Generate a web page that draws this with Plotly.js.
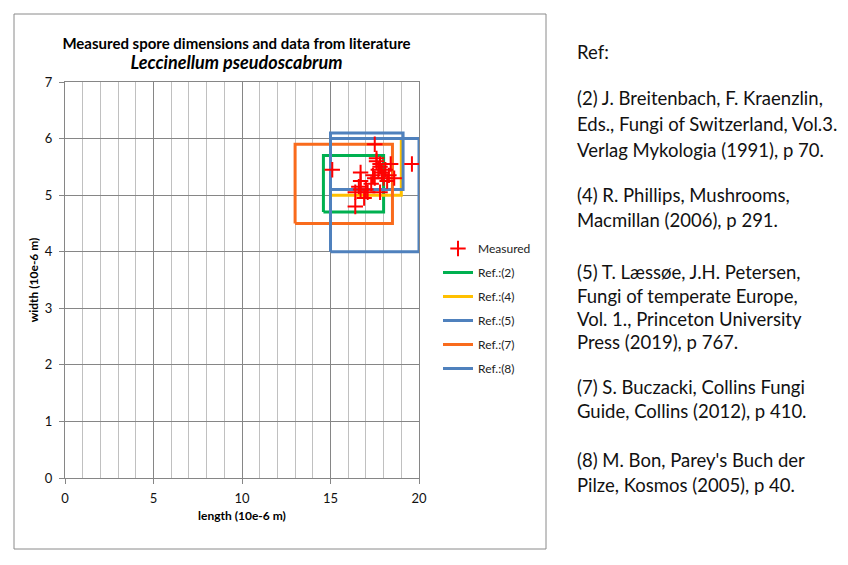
<!DOCTYPE html>
<html><head><meta charset="utf-8">
<script src="https://cdn.plot.ly/plotly-3.0.1.min.js"></script>
<style>html,body{margin:0;padding:0;background:#fff}#chart{width:848px;height:565px}</style>
</head><body><div id="chart"></div><script>
// Measured spores (length, width) in 10e-6 m
const measuredLength = [17.5, 15.1, 19.6, 16.4, 16.7, 16.7, 16.7, 17.6, 17.8, 18.4, 18.6, 16.9, 17.1, 17.8, 16.6, 17.5, 18.0, 17.4, 17.8, 18.2, 17.7, 17.3, 17.9, 18.3, 16.4, 17.0, 17.6, 18.1];
const measuredWidth  = [5.9, 5.45, 5.55, 4.8, 5.4, 5.25, 5.1, 5.6, 5.55, 5.55, 5.3, 4.95, 5.05, 5.05, 5.15, 5.3, 5.3, 5.35, 5.5, 5.25, 5.45, 5.2, 5.4, 5.35, 5.05, 5.1, 5.65, 5.45];

// Literature ranges
const refNames     = ['Ref.:(2)', 'Ref.:(4)', 'Ref.:(5)', 'Ref.:(7)', 'Ref.:(8)'];
const refLengthMin = [14.6, 15, 15, 13, 15];
const refLengthMax = [18, 19, 19.1, 18.5, 20];
const refWidthMin  = [4.7, 5, 5.1, 4.5, 4];
const refWidthMax  = [5.7, 6, 6.1, 5.9, 6];
const refColors    = ['#00B050', '#FFC000', '#4F81BD', '#F96B1C', '#4F81BD'];

const xTickVals = [0, 5, 10, 15, 20];
const yTickVals = [0, 1, 2, 3, 4, 5, 6, 7];

const refText = [
  'Ref:',
  '(2) J. Breitenbach, F. Kraenzlin,',
  'Eds., Fungi of Switzerland, Vol.3.',
  'Verlag Mykologia (1991), p 70.',
  '(4) R. Phillips, Mushrooms,',
  'Macmillan (2006), p 291.',
  '(5) T. Læssøe, J.H. Petersen,',
  'Fungi of temperate Europe,',
  'Vol. 1., Princeton University',
  'Press (2019), p 767.',
  '(7) S. Buczacki, Collins Fungi',
  'Guide, Collins (2012), p 410.',
  '(8) M. Bon, Parey\'s Buch der',
  'Pilze, Kosmos (2005), p 40.'
];
const refTextY = [52, 98, 124, 150, 195, 220, 272, 296, 319, 342, 387, 411, 460, 485];

// plot area in pixels: x 65..419, y 82..478
const L = 65, W = 354, T = 82, H = 396;
const px = X => (X - L) / W;
const py = Y => (T + H - Y) / H;

const traces = [];
refNames.forEach((name, i) => {
  traces.push({
    type: 'scatter', mode: 'lines', name: name,
    x: [refLengthMin[i], refLengthMax[i], refLengthMax[i], refLengthMin[i], refLengthMin[i]],
    y: [refWidthMin[i], refWidthMin[i], refWidthMax[i], refWidthMax[i], refWidthMin[i]],
    line: {color: refColors[i], width: 3},
    legendgroup: 'g' + (i + 1), legendrank: i + 2, hoverinfo: 'skip'
  });
});
traces.push({
  type: 'scatter', mode: 'markers', name: 'Measured',
  x: measuredLength, y: measuredWidth,
  marker: {symbol: 'cross-thin', size: 11, color: '#FF0000', line: {color: '#FF0000', width: 2}},
  legendgroup: 'g0', legendrank: 1
});

const annotations = refText.map((t, i) => ({
  xref: 'paper', yref: 'paper', x: px(575), y: py(refTextY[i]),
  xanchor: 'left', yanchor: 'middle', showarrow: false, text: t,
  font: {family: 'Lato, sans-serif', size: 18.5, color: '#111'}
}));

const layout = {
  width: 848, height: 565,
  margin: {l: L, r: 848 - L - W, t: T, b: 565 - T - H, pad: 0},
  paper_bgcolor: '#fff', plot_bgcolor: '#fff',
  font: {family: 'Lato, sans-serif', color: '#111'},
  title: {
    text: '<b>Measured spore dimensions and data from literature</b><br><span style="font-size:18px"><b><i>Leccinellum pseudoscabrum</i></b></span>',
    font: {family: 'Lato, sans-serif', size: 15, color: '#000'},
    x: px(236.5), xref: 'paper', xanchor: 'center',
    y: 1 - 49 / 565, yref: 'container', yanchor: 'top'
  },
  xaxis: {
    range: [0, 20], tickvals: xTickVals, ticks: 'outside', ticklen: 5, tickcolor: '#868686',
    showgrid: true, gridcolor: '#868686', gridwidth: 1,
    minor: {dtick: 1, tick0: 0, showgrid: true, gridcolor: '#c0c0c0', gridwidth: 1, ticks: ''},
    showline: true, linecolor: '#868686', mirror: true, zeroline: false, automargin: false,
    tickfont: {family: 'Lato, sans-serif', size: 13, color: '#111'}, ticklabelstandoff: 3,
    title: {text: '<b>length (10e-6 m)</b>', font: {family: 'Lato, sans-serif', size: 12, color: '#000'}, standoff: 7}
  },
  yaxis: {
    range: [0, 7], tickvals: yTickVals, ticks: 'outside', ticklen: 5, tickcolor: '#868686',
    showgrid: true, gridcolor: '#868686', gridwidth: 1,
    showline: true, linecolor: '#868686', mirror: true, zeroline: false, automargin: false,
    tickfont: {family: 'Lato, sans-serif', size: 13, color: '#111'}, ticklabelstandoff: 4,
    title: {text: '<b>width (10e-6 m)</b>', font: {family: 'Lato, sans-serif', size: 12, color: '#000'}, standoff: 3}
  },
  showlegend: true,
  legend: {
    x: px(438), y: py(234), xanchor: 'left', yanchor: 'top',
    traceorder: 'grouped', tracegroupgap: 5,
    font: {family: 'Lato, sans-serif', size: 12, color: '#222'},
    bgcolor: 'rgba(0,0,0,0)'
  },
  shapes: [{
    type: 'rect', xref: 'paper', yref: 'paper',
    x0: px(14), x1: px(546), y0: py(549), y1: py(14),
    line: {color: '#8a8a8a', width: 1}, fillcolor: 'rgba(0,0,0,0)', layer: 'below'
  }],
  annotations: annotations
};

Plotly.newPlot('chart', traces, layout, {displayModeBar: false, staticPlot: true});
</script></body></html>
